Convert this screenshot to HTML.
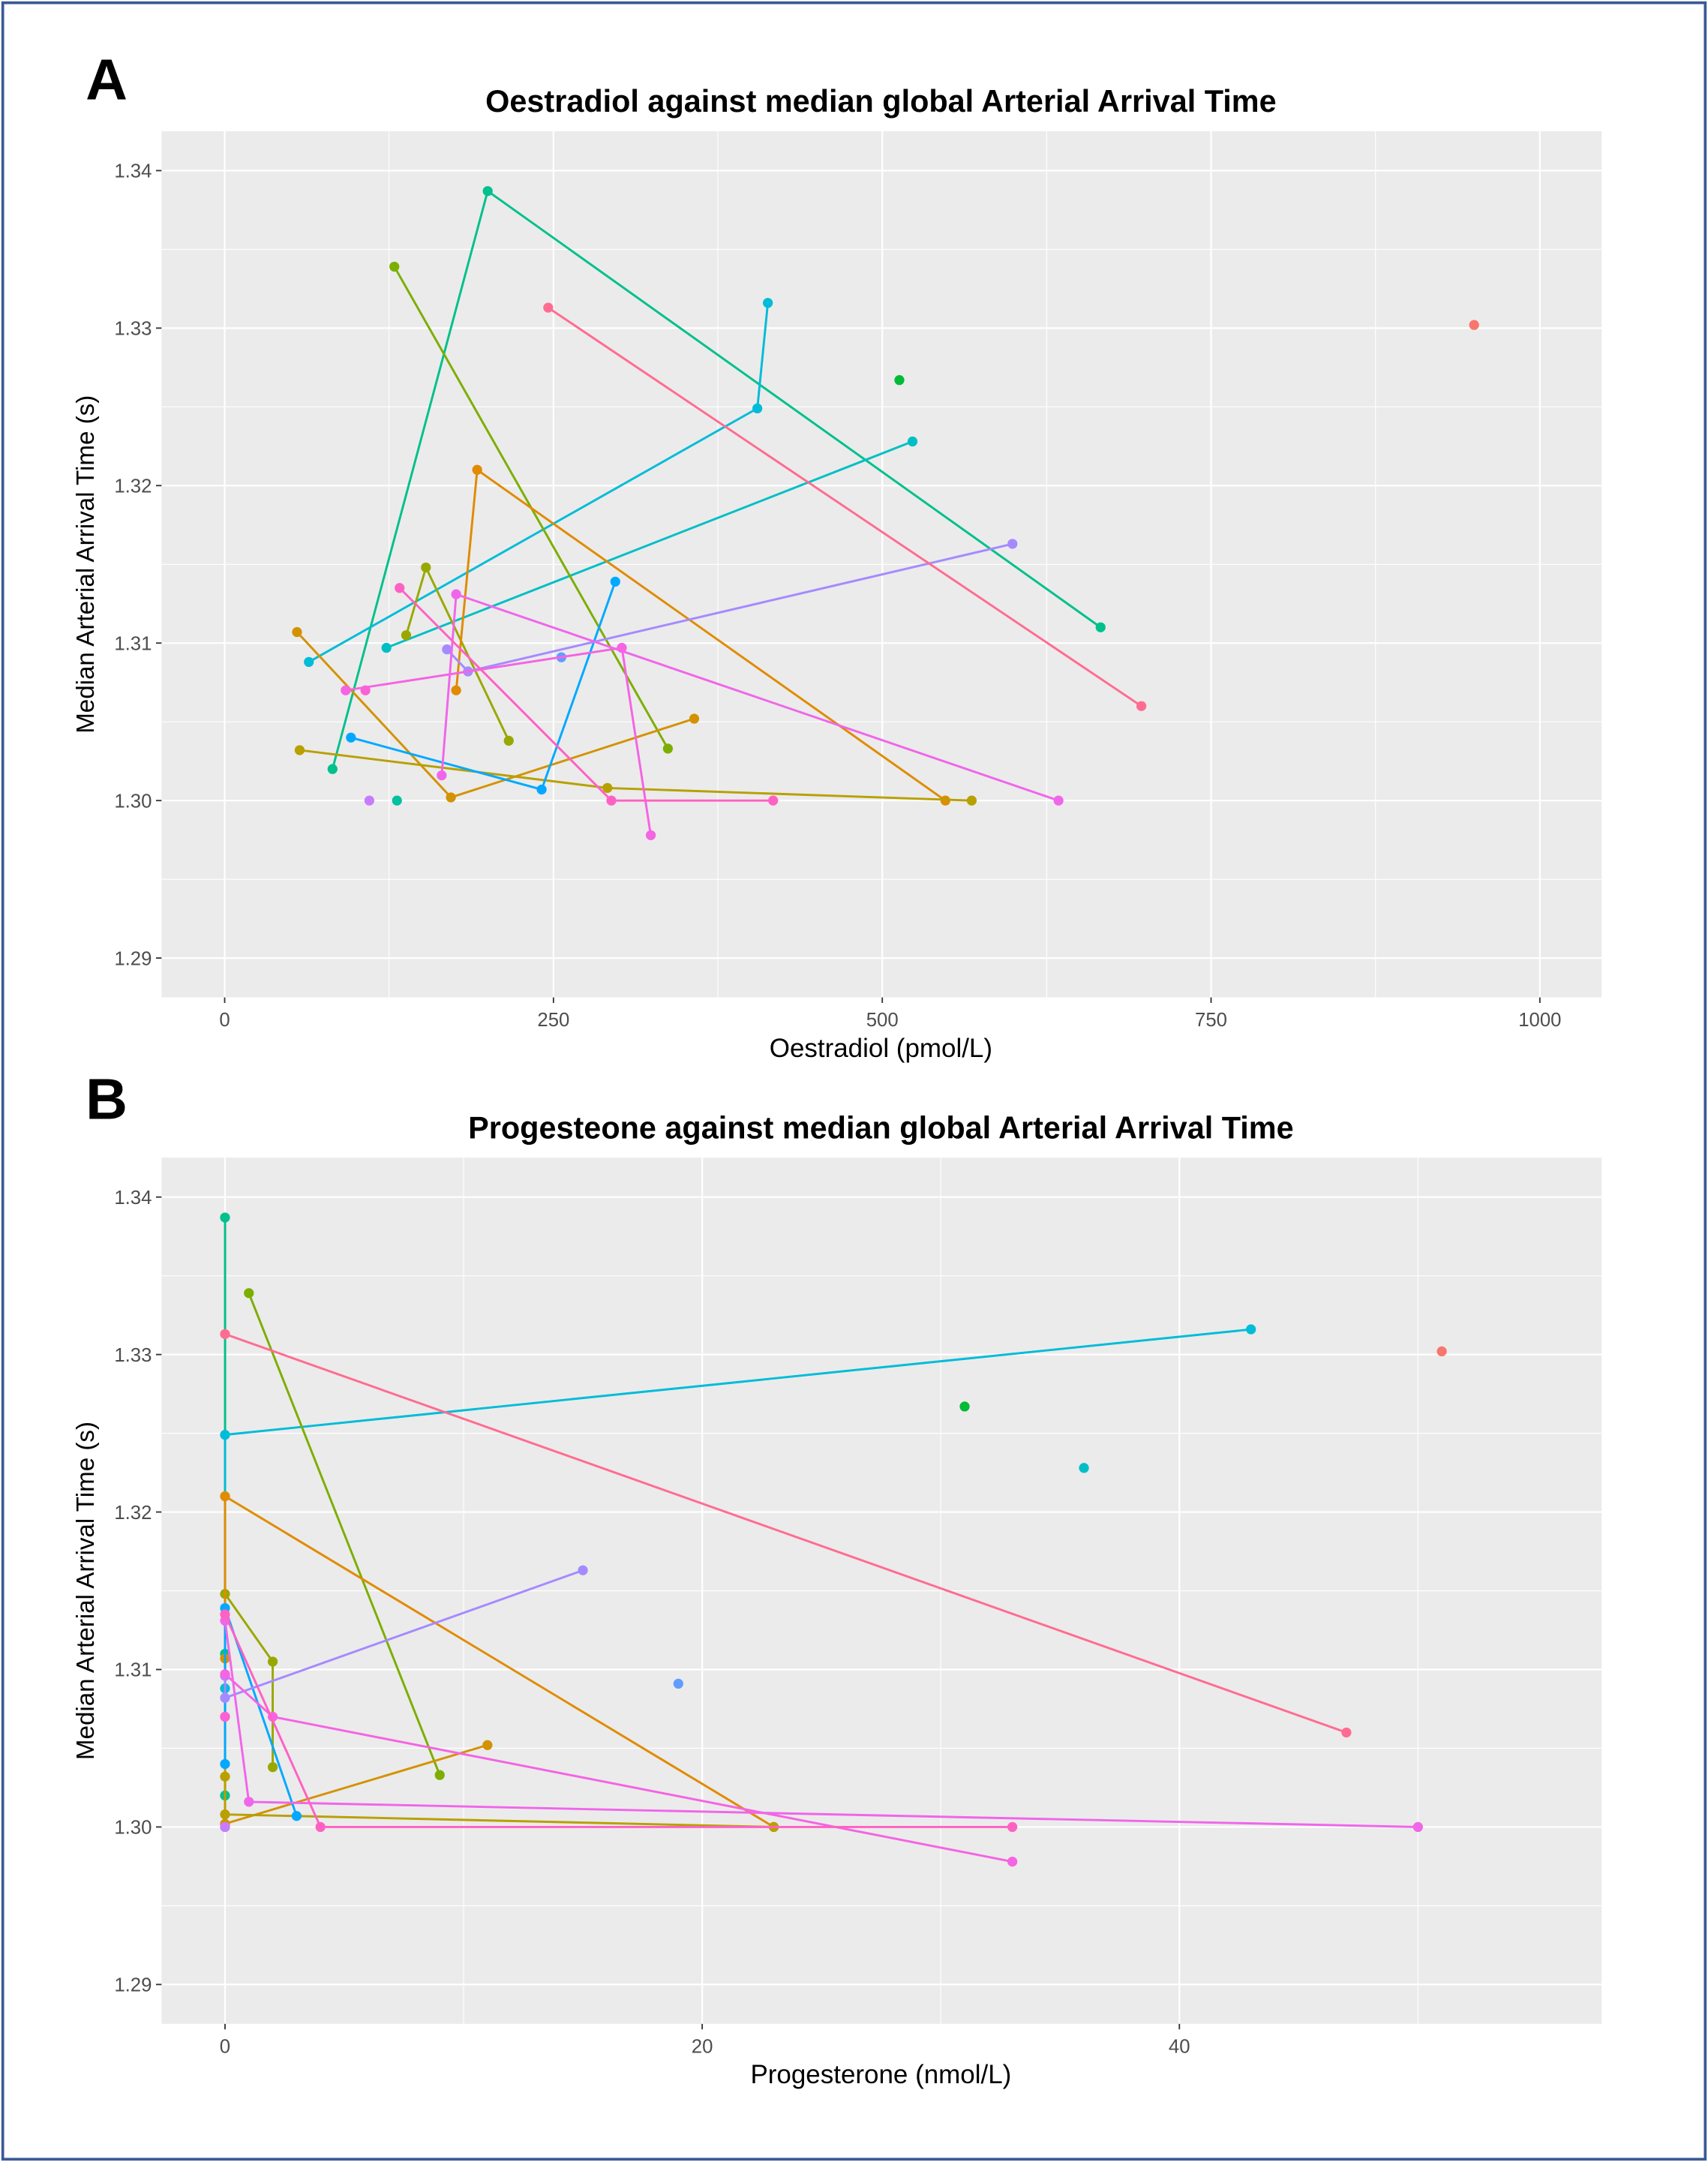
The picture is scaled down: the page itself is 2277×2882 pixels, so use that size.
<!DOCTYPE html>
<html><head><meta charset="utf-8"><style>
html,body{margin:0;padding:0;background:#fff;}
svg{display:block;font-family:"Liberation Sans",sans-serif;}
</style></head><body>
<svg id="fig" width="2277" height="2882" viewBox="0 0 1237 1565" preserveAspectRatio="none" xmlns="http://www.w3.org/2000/svg">
<rect x="2" y="2" width="1233" height="1561" fill="#fff" stroke="#3a5a95" stroke-width="2"/>
<text x="62" y="72" font-size="42" font-weight="bold">A</text>
<text x="62" y="810" font-size="42" font-weight="bold">B</text>
<g id="panelA"></g>
<g id="panelB"></g>
</svg>
<script>
// subject series data (null = missing value)
const colors = ["#F8766D","#00C08B","#00BA38","#00BCD8","#00BFC4","#00C0A0","#7CAE00","#99A800","#D39200","#E08B00","#B8A000","#00A9FF","#A58AFF","#619CFF","#FF6C91","#F564E3","#F066EA","#FF61C3","#FB61D7","#C77CFF"];
const oestradiol = [[950],[82,200,666],[513],[64,405,413],[123,523],[131],[129,337],[138,153,216],[55,172,357],[176,192,548],[57,291,568],[96,241,297],[169,185,599],[256],[246,697],[92,302,324],[165,176,634],[133,294,417],[107],[110]];
const progesterone = [[51],[0,0,0],[31],[0,0,43],[null,36],[0],[1,9],[2,0,2],[0,0,11],[0,0,23],[0,0,23],[0,3,0],[0,0,15],[19],[0,47],[2,0,33],[1,0,50],[0,4,33],[0],[0]];
const aat = [[1.3302],[1.3020,1.3387,1.3110],[1.3267],[1.3088,1.3249,1.3316],[1.3097,1.3228],[1.3000],[1.3339,1.3033],[1.3105,1.3148,1.3038],[1.3107,1.3002,1.3052],[1.3070,1.3210,1.3000],[1.3032,1.3008,1.3000],[1.3040,1.3007,1.3139],[1.3096,1.3082,1.3163],[1.3091],[1.3313,1.3060],[1.3070,1.3097,1.2978],[1.3016,1.3131,1.3000],[1.3135,1.3000,1.3000],[1.3070],[1.3000]];
const yTicks = [1.29,1.30,1.31,1.32,1.33,1.34];
const yTickLabels = ["1.29","1.30","1.31","1.32","1.33","1.34"];
const xTicksA = [0,250,500,750,1000];
const xTicksB = [0,20,40];

const NS="http://www.w3.org/2000/svg";
function mk(parent,tag,attrs,text){const e=document.createElementNS(NS,tag);for(const k in attrs)e.setAttribute(k,attrs[k]);if(text!==undefined)e.textContent=text;parent.appendChild(e);return e;}

function drawPanel(g, cfg){
  const L=117,R=1160,T=cfg.top,B=cfg.top+627;
  const xs=v=>L+(v-cfg.xmin)/(cfg.xmax-cfg.xmin)*(R-L);
  const ys=v=>B-(v-1.2875)/(1.3425-1.2875)*(B-T);
  const bg=mk(g,'rect',{x:L,y:T,width:R-L,height:B-T,fill:'#EBEBEB'});
  
  
  cfg.minorX.forEach(v=>{const l=mk(g,'line',{x1:xs(v),x2:xs(v),y1:T,y2:B,stroke:'#fff','stroke-width':0.6});
    
    });
  yTicks.forEach(v=>{const l=mk(g,'line',{x1:L,x2:R,y1:ys(v+0.005),y2:ys(v+0.005),stroke:'#fff','stroke-width':0.6});
    
    });
  cfg.xTicks.forEach(v=>{const l=mk(g,'line',{x1:xs(v),x2:xs(v),y1:T,y2:B,stroke:'#fff','stroke-width':1.2});
    
    
    const t=mk(g,'line',{x1:xs(v),x2:xs(v),y1:B,y2:B+4,stroke:'#333','stroke-width':1});
    
    
    const lb=mk(g,'text',{x:xs(v),y:B+21,'font-size':14,fill:'#4d4d4d','text-anchor':'middle'},String(v));
    
    });
  yTicks.forEach((v,i)=>{const l=mk(g,'line',{x1:L,x2:R,y1:ys(v),y2:ys(v),stroke:'#fff','stroke-width':1.2});
    
    
    const t=mk(g,'line',{x1:L-4,x2:L,y1:ys(v),y2:ys(v),stroke:'#333','stroke-width':1});
    
    
    const lb=mk(g,'text',{x:L-7,y:ys(v)+5,'font-size':14,fill:'#4d4d4d','text-anchor':'end'},yTickLabels[i]);
    
    });
  cfg.xdata.forEach((xa,s)=>{
    const idx=xa.map((x,i)=>i).filter(i=>xa[i]!==null);
    idx.sort((a,b)=>xa[a]-xa[b]||a-b);
    const pts=idx.map(i=>xs(xa[i]).toFixed(1)+','+ys(aat[s][i]).toFixed(1)).join(' ');
    if(idx.length>1){const pl=mk(g,'polyline',{points:pts,fill:'none',stroke:colors[s],'stroke-width':1.6});
      
      }
    idx.forEach(i=>{const c=mk(g,'circle',{cx:xs(xa[i]),cy:ys(aat[s][i]),r:3.6,fill:colors[s]});
      
      });
  });
  const ti=mk(g,'text',{x:638,y:T-14,'font-size':22.5,'font-weight':'bold','text-anchor':'middle',fill:'#000'},cfg.title);
  
  
  const xt=mk(g,'text',{x:638,y:B+43,'font-size':19,'text-anchor':'middle',fill:'#000'},cfg.xlabel);
  
  
  const cy=(T+B)/2;
  const yt=mk(g,'text',{x:68,y:cy,'font-size':18,'text-anchor':'middle',fill:'#000',transform:'rotate(-90 68 '+cy+')'},'Median Arterial Arrival Time (s)');
  
  
}
drawPanel(document.getElementById('panelA'),{top:95,xmin:-48,xmax:1047,xTicks:xTicksA,minorX:[125,375,625,875],xdata:oestradiol,title:'Oestradiol against median global Arterial Arrival Time',xlabel:'Oestradiol (pmol/L)'});
drawPanel(document.getElementById('panelB'),{top:838,xmin:-2.66,xmax:57.7,xTicks:xTicksB,minorX:[10,30,50],xdata:progesterone,title:'Progesteone against median global Arterial Arrival Time',xlabel:'Progesterone (nmol/L)'});
</script>
</body></html>
